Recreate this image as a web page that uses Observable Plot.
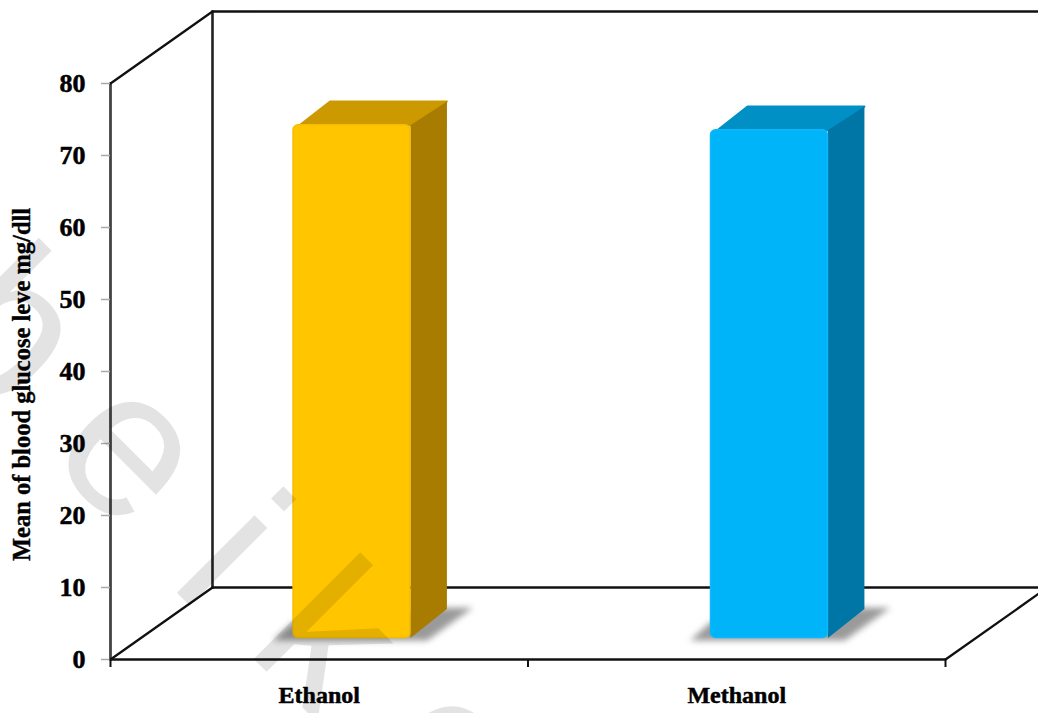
<!DOCTYPE html>
<html>
<head>
<meta charset="utf-8">
<script src="https://cdn.jsdelivr.net/npm/d3@7"></script>
<script src="https://cdn.jsdelivr.net/npm/@observablehq/plot@0.6"></script>
<style>
  html, body { margin: 0; padding: 0; background: #fff; overflow: hidden; }
  svg { display: block; }
</style>
</head>
<body>
<div id="chart"></div>
<script>
// Blood glucose means per solvent extract
const categories = ["Ethanol", "Methanol"];
const glucoseMeans = [71.2, 70.5];
const yTicks = [0, 10, 20, 30, 40, 50, 60, 70, 80];
const yTitle = "Mean of blood glucose leve mg/dll";

// Face colours of each column: front, edge highlight, top, side
const frontColors = ["#ffc600", "#00b4fa"];
const edgeColors = ["#f6bd00", "#0cb8fb"];
const topColors = ["#cc9a00", "#0090c6"];
const sideColors = ["#a87c00", "#0076a6"];

// Oblique projection: the floor recedes by this much along each axis
const floorDepthX = 0.2443;
const floorDepthY = 10;
const xMax = 2;
const yMax = 80;

// Column proportions on the floor
const halfWidth = 0.14;
const columnDepthX = 0.0874;
const columnDepthY = 3.6;
const shiftX = 0.0784;
const baseY = 3;

// Faint diagonal overlay lettering
const overlayLetters = ["b", "e", "i", "k", "e"];
const overlayX = [-0.24, 0.0525, 0.287, 0.52, 0.82];
const overlayY = [46, 29.2, 14.9, 2.9, -13.1];

const segment = (points, options) =>
  Plot.line(points, {x: "0", y: "1", stroke: "#111", strokeWidth: 2.3, ...options});
const polygon = (points, fill, options = {}) =>
  Plot.line(points, {x: "0", y: "1", fill, stroke: "none", curve: "linear-closed", ...options});

// Open box: side wall, back wall and floor
const frame = [
  segment([[0, 0], [0, yMax]], {stroke: "#444", strokeWidth: 2.8}),
  segment([[floorDepthX, floorDepthY], [floorDepthX, yMax + floorDepthY]], {stroke: "#222", strokeWidth: 2.6}),
  segment([[0, yMax], [floorDepthX, yMax + floorDepthY]]),
  segment([[floorDepthX, yMax + floorDepthY], [xMax + floorDepthX, yMax + floorDepthY]]),
  segment([[0, 0], [floorDepthX, floorDepthY]]),
  segment([[floorDepthX, floorDepthY], [xMax + floorDepthX, floorDepthY]]),
  segment([[0, 0], [xMax, 0]]),
  segment([[xMax, 0], [xMax + floorDepthX, floorDepthY]])
];

// Each column: soft floor shadow, top and side faces, then the rounded front
const columns = categories.flatMap((name, i) => {
  const left = i + 0.5 + shiftX - halfWidth;
  const right = i + 0.5 + shiftX + halfWidth;
  const top = glucoseMeans[i] + baseY;
  const backTop = top + columnDepthY - 0.3;
  return [
    polygon([
      [left - 0.05, baseY - 0.35],
      [left, baseY + 2.2],
      [right + columnDepthX, baseY + columnDepthY + 0.6],
      [right + columnDepthX + 0.062, baseY + columnDepthY + 0.6],
      [right + 0.04, baseY - 0.35]
    ], "#9a9a9a", {imageFilter: "blur(3px)"}),
    polygon([
      [left + 0.006, top - 0.4],
      [left + columnDepthX, backTop],
      [right + columnDepthX, backTop],
      [right, top]
    ], topColors[i], {strokeLinejoin: "round", stroke: topColors[i], strokeWidth: 2}),
    polygon([
      [right, baseY],
      [right + columnDepthX, baseY + columnDepthY + 0.4],
      [right + columnDepthX, backTop],
      [right, top]
    ], sideColors[i]),
    Plot.rect([0], {
      x1: left, x2: right, y1: baseY, y2: top,
      fill: frontColors[i], stroke: edgeColors[i], strokeWidth: 1.5, rx: 5
    })
  ];
});

const chart = Plot.plot({
  width: 1038,
  height: 713,
  marginTop: 83,
  marginBottom: 54,
  marginLeft: 110,
  marginRight: 93,
  style: {overflow: "hidden", background: "#fff", fontFamily: "'Liberation Serif', serif", color: "#000"},
  x: {type: "linear", domain: [0, xMax]},
  y: {domain: [0, yMax]},
  marks: [
    ...frame,
    ...columns,
    Plot.axisY({
      ticks: yTicks, tickSize: 9, tickPadding: 16, stroke: "#a8a8a8", strokeWidth: 1.5,
      fontSize: 26, fontWeight: "bold", textStroke: "#000", textStrokeWidth: 0.5, label: null
    }),
    Plot.axisX({ticks: [0, 1, 2], tickSize: 8, tickFormat: () => "", stroke: "#111", strokeWidth: 2, label: null}),
    Plot.axisX({
      ticks: categories.map((_, i) => i + 0.5), tickSize: 0, tickPadding: 26,
      tickFormat: (d) => categories[Math.floor(d)],
      fontSize: 24, fontWeight: "bold", textStroke: "#000", textStrokeWidth: 0.5, label: null
    }),
    Plot.text([yTitle], {
      x: -0.212, y: 38.2, text: (d) => d, rotate: -90, fontSize: 24.5, fontWeight: "bold",
      stroke: "#000", strokeWidth: 0.4, fill: "#000"
    }),
    Plot.text(overlayLetters, {
      x: (_, i) => overlayX[i], y: (_, i) => overlayY[i], text: (d) => d, rotate: 45,
      fontFamily: "'Liberation Sans', sans-serif", fontSize: 208,
      fill: "#000", fillOpacity: 0.11
    })
  ]
});
document.getElementById("chart").append(chart);
</script>
</body>
</html>
